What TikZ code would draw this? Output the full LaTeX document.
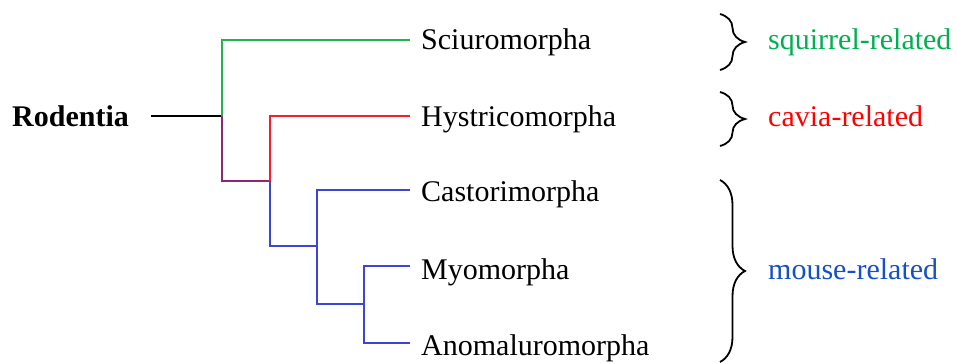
\documentclass[tikz,border=0pt]{standalone}
\usepackage{fontspec}
\setmainfont{Liberation Serif}
\usetikzlibrary{decorations.pathreplacing}
\definecolor{cgreen}{RGB}{34,180,80}
\definecolor{cred}{RGB}{250,30,45}
\definecolor{cpurple}{RGB}{140,40,110}
\definecolor{cblue}{RGB}{60,70,210}
\definecolor{tgreen}{RGB}{0,176,80}
\definecolor{tred}{RGB}{255,0,0}
\definecolor{tblue}{RGB}{20,80,200}
\tikzset{
  taxon/.style={anchor=base west,inner sep=0pt,font=\fontsize{30}{34}\selectfont},
  grouplbl/.style={anchor=base west,inner sep=0pt,font=\fontsize{30}{34}\selectfont},
  branch/.style={line width=2.8pt},
  bracebr/.style={line width=1.8pt,decorate,decoration={brace,amplitude=25pt}},
}
\begin{document}
\begin{tikzpicture}[x=1pt,y=-1pt]
\useasboundingbox (0,0) rectangle (957,363);
% labels
\node[anchor=base west,inner sep=0pt,font=\fontsize{30}{34}\selectfont\bfseries] (root) at (12,127) {Rodentia};
\node[taxon] (sci) at (421,50) {Sciuromorpha};
\node[taxon] (hys) at (421,127) {Hystricomorpha};
\node[taxon] (cas) at (421,202) {Castorimorpha};
\node[taxon] (myo) at (421,279) {Myomorpha};
\node[taxon] (ano) at (421,355) {Anomaluromorpha};
% junctions
\coordinate (r0) at (151,116);
\coordinate (j1) at (222,116);
\coordinate (j2) at (270,181);
\coordinate (j3) at (317,246);
\coordinate (j4) at (364,304);
\coordinate (e1) at (410,40);
\coordinate (e2) at (410,116);
\coordinate (e3) at (410,190);
\coordinate (e4) at (410,266);
\coordinate (e5) at (410,343);
% tree
\draw[line width=1.6pt,black] (r0) -- (j1);
\draw[branch,cgreen] (j1) |- (e1);
\draw[branch,cpurple] (j1) |- (j2);
\draw[branch,cred] (j2) |- (e2);
\draw[branch,cblue] (j2) |- (j3);
\draw[branch,cblue] (j3) |- (e3);
\draw[branch,cblue] (j3) |- (j4);
\draw[branch,cblue] (j4) |- (e4);
\draw[branch,cblue] (j4) |- (e5);
% braces
\coordinate (b1a) at (720,14); \coordinate (b1b) at (720,70);
\coordinate (b2a) at (720,92); \coordinate (b2b) at (720,146);
\coordinate (b3a) at (720,180); \coordinate (b3b) at (720,362);
\draw[bracebr] (b1a) -- (b1b);
\draw[bracebr] (b2a) -- (b2b);
\draw[bracebr] (b3a) -- (b3b);
\node[grouplbl,text=tgreen] (g1) at (768,50) {squirrel-related};
\node[grouplbl,text=tred] (g2) at (768,127) {cavia-related};
\node[grouplbl,text=tblue] (g3) at (768,279) {mouse-related};
\end{tikzpicture}
\end{document}
